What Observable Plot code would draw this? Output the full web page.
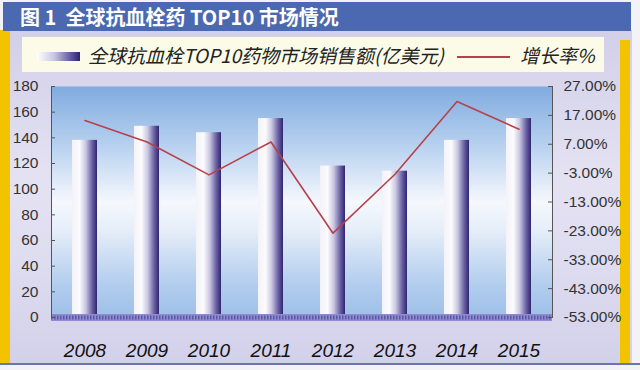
<!DOCTYPE html>
<html>
<head>
<meta charset="utf-8">
<script src="https://cdn.jsdelivr.net/npm/d3@7"></script>
<script src="https://cdn.jsdelivr.net/npm/@observablehq/plot@0.6"></script>
<style>
  html, body { margin:0; padding:0; width:640px; height:370px; overflow:hidden; background:#f2f2f7; }
  #panel { position:absolute; left:0; top:0; width:640px; height:370px; }
  #bgpanel { position:absolute; left:0; top:30px; width:632px; height:334px;
    background: linear-gradient(to bottom, #d2cfe9 0%, #e4e2f2 45%, #dedcf0 70%, #d3d0ea 100%); }
  #bottomline { position:absolute; left:0; top:363px; width:640px; height:2px; background:#6a76a6; }
  #yl { position:absolute; left:0; top:30px; width:10px; height:334px; background:#f4c300; }
  #yr { position:absolute; left:620px; top:40px; width:10px; height:324px; background:#f4c300; }
  #title { position:absolute; left:3px; top:2px; width:628px; height:29px; background:#4b69b1;
    color:#fff; font:bold 20px "Noto Sans CJK SC", sans-serif; line-height:29px; box-sizing:border-box; padding-left:17px; white-space:nowrap; }
  #legend { position:absolute; left:22px; top:37px; width:582px; height:35px; background:#fbfbe8; }
  .lg { position:absolute; font:italic 19px "Noto Sans CJK SC", sans-serif; color:#222; white-space:nowrap; line-height:35px; top:0; }
  #sw { position:absolute; left:15px; top:15px; width:43px; height:9px;
    background: linear-gradient(to right, #ffffff 0%, #c9c6e0 40%, #6a62a8 75%, #2c2370 100%); }
  #ln { position:absolute; left:435px; top:19px; width:53px; height:2px; background:#b8404a; }
  #chart { position:absolute; left:0; top:76px; }
</style>
</head>
<body>
<div id="panel">
  <div id="bgpanel"></div>
  <div id="yl"></div>
  <div id="yr"></div>
  <div id="bottomline"></div>
  <div id="title">图 1&nbsp; 全球抗血栓药 TOP10 市场情况</div>
  <div id="legend">
    <div id="sw"></div>
    <div class="lg" style="left:66px">全球抗血栓TOP10药物市场销售额(亿美元)</div>
    <div id="ln"></div>
    <div class="lg" style="left:498px">增长率%</div>
  </div>
  <div id="chart"></div>
</div>
<script>
const years = ["2008","2009","2010","2011","2012","2013","2014","2015"];
const sales = [138, 149, 144, 155, 118, 114, 138, 155];
const growth = [15.2, 7.8, -3.6, 7.8, -23.8, -3.4, 21.8, 12.2];
const leftTicks = [0, 20, 40, 60, 80, 100, 120, 140, 160, 180];
const rightTicks = [27, 17, 7, -3, -13, -23, -33, -43, -53];

const gMin = -53, gMax = 27, yMax = 180;
const toLeft = g => (g - gMin) / (gMax - gMin) * yMax;
const fromLeft = v => v / yMax * (gMax - gMin) + gMin;

const barData = years.map((y, i) => ({year: y, sales: sales[i]}));
const lineData = years.map((y, i) => ({year: y, g: growth[i]}));
const rightPos = rightTicks.map(toLeft);

const W = 640, mL = 51, mR = 88;
const plotW = W - mL - mR;

const chart = Plot.plot({
  width: W, height: 294,
  marginTop: 10, marginBottom: 53, marginLeft: mL, marginRight: mR,
  style: {background: "transparent", fontFamily: "'Liberation Sans', Arial, sans-serif", overflow: "visible"},
  x: {domain: years, paddingInner: 0.6, paddingOuter: 0.28, axis: null},
  y: {domain: [0, yMax], axis: null},
  marks: [
    Plot.frame({fill: "url(#bgGrad)", stroke: null}),
    Plot.barY(barData, {x: "year", y: "sales", fill: "url(#barGrad)"}),
    Plot.ruleY([0], {stroke: "#8f8bd0", strokeWidth: 7}),
    Plot.ruleY([0], {stroke: "#5e59a6", strokeWidth: 4, strokeDasharray: "1.5,1.5"}),
    Plot.line(lineData, {x: "year", y: d => toLeft(d.g), stroke: "#b8404a", strokeWidth: 1.6}),
    Plot.frame({anchor: "left", stroke: "#555"}),
    Plot.frame({anchor: "right", stroke: "#555"}),
    Plot.tickY(leftTicks, {y: d => d, stroke: "#555", insetRight: plotW - 4}),
    Plot.tickY(rightPos, {y: d => d, stroke: "#555", insetLeft: plotW - 4}),
    Plot.axisY(leftTicks, {anchor: "left", label: null, tickSize: 0, tickPadding: 13, fontSize: 15.5, color: "#333"}),
    Plot.axisY(rightPos, {anchor: "right", label: null, tickSize: 0, tickPadding: 11, fontSize: 15.5, color: "#333",
      tickFormat: d => fromLeft(d).toFixed(2) + "%"}),
    Plot.axisX(years, {anchor: "bottom", label: null, tickSize: 0, tickPadding: 26, fontSize: 19, fontStyle: "italic", color: "#111"})
  ]
});

const defs = d3.select(chart).insert("defs", ":first-child");
const bg = defs.append("linearGradient").attr("id", "bgGrad").attr("x1", 0).attr("y1", 0).attr("x2", 0).attr("y2", 1);
[[0, "#80abdf"], [0.25, "#b6d0ef"], [0.5, "#f5f8fd"], [0.62, "#e6eef9"], [0.85, "#b3ceee"], [1, "#9ebfe8"]]
  .forEach(([o, c]) => bg.append("stop").attr("offset", o).attr("stop-color", c));
const bar = defs.append("linearGradient").attr("id", "barGrad").attr("x1", 0).attr("y1", 0).attr("x2", 1).attr("y2", 0);
[[0, "#f2f2f8"], [0.3, "#fbfbfe"], [0.55, "#c9c6e0"], [0.8, "#6b63a6"], [1, "#2f256e"]]
  .forEach(([o, c]) => bar.append("stop").attr("offset", o).attr("stop-color", c));

document.getElementById("chart").appendChild(chart);
</script>
</body>
</html>
